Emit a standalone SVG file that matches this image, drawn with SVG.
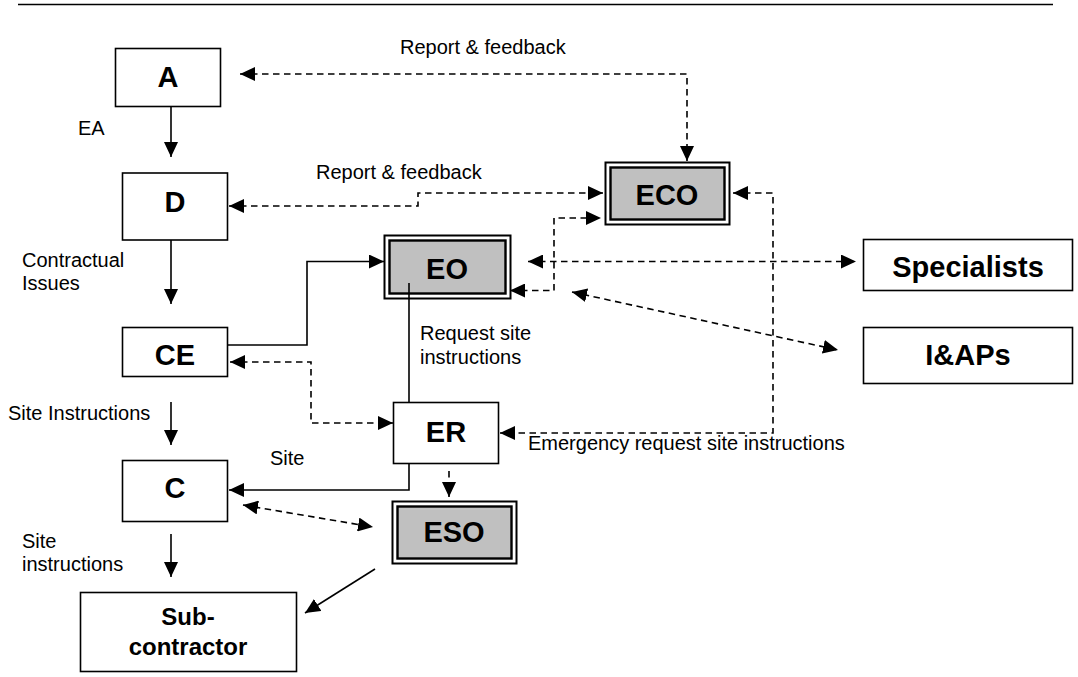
<svg xmlns="http://www.w3.org/2000/svg" width="1078" height="677" viewBox="0 0 1078 677">
  <style>
    .box { fill: #ffffff; stroke: #000000; stroke-width: 1.6; }
    .outer { fill: #ffffff; stroke: #000000; stroke-width: 2; }
    .inner { fill: #c0c0c0; stroke: #000000; stroke-width: 2.4; }
    .lbl { font-family: "Liberation Sans", Arial, sans-serif; font-weight: bold; font-size: 29px; fill: #000000; text-anchor: middle; }
    .sub { font-size: 24px; }
    .note { font-family: "Liberation Sans", Arial, sans-serif; font-size: 20px; fill: #000000; }
    .solid { fill: none; stroke: #000000; stroke-width: 1.6; }
    .dash { fill: none; stroke: #000000; stroke-width: 1.6; stroke-dasharray: 6.5 4.5; }
    .arr { marker-end: url(#head); }
    .both { marker-start: url(#tail); marker-end: url(#head); }
  </style>
  <defs>
    <marker id="head" markerUnits="userSpaceOnUse" markerWidth="15" markerHeight="14" refX="15" refY="7" orient="auto">
      <path d="M0,0 L15,7 L0,14 z" fill="#000000"/>
    </marker>
    <marker id="tail" markerUnits="userSpaceOnUse" markerWidth="15" markerHeight="14" refX="0" refY="7" orient="auto">
      <path d="M15,0 L0,7 L15,14 z" fill="#000000"/>
    </marker>
  </defs>

  <!-- page header rule -->
  <line x1="18" y1="4.5" x2="1053" y2="4.5" stroke="#000000" stroke-width="1.6"/>

  <!-- nodes -->
  <g id="node-a">
    <rect class="box" x="115.5" y="48.5" width="105" height="58"/>
    <text class="lbl" x="168" y="87">A</text>
  </g>
  <g id="node-d">
    <rect class="box" x="122.5" y="173" width="105" height="67"/>
    <text class="lbl" x="175" y="212">D</text>
  </g>
  <g id="node-ce">
    <rect class="box" x="122.5" y="327.5" width="105" height="49"/>
    <text class="lbl" x="175" y="365">CE</text>
  </g>
  <g id="node-c">
    <rect class="box" x="122.5" y="460.5" width="105" height="61"/>
    <text class="lbl" x="175" y="498">C</text>
  </g>
  <g id="node-subcontractor">
    <rect class="box" x="80.5" y="592.5" width="216" height="79"/>
    <text class="lbl sub" x="188" y="625">Sub-</text>
    <text class="lbl sub" x="188" y="655">contractor</text>
  </g>
  <g id="node-eco">
    <rect class="outer" x="605.5" y="162.5" width="124" height="62"/>
    <rect class="inner" x="610.5" y="167.5" width="114" height="52"/>
    <text class="lbl" x="667" y="205">ECO</text>
  </g>
  <g id="node-eo">
    <rect class="outer" x="384.5" y="235.5" width="126" height="63"/>
    <rect class="inner" x="389.5" y="240.5" width="116" height="53"/>
    <text class="lbl" x="447" y="279">EO</text>
  </g>
  <g id="node-er">
    <rect class="box" x="393.5" y="402.5" width="105" height="61"/>
    <text class="lbl" x="446" y="442">ER</text>
  </g>
  <g id="node-eso">
    <rect class="outer" x="392.5" y="501.5" width="124" height="62"/>
    <rect class="inner" x="397.5" y="506.5" width="114" height="52"/>
    <text class="lbl" x="454" y="542">ESO</text>
  </g>
  <g id="node-specialists">
    <rect class="box" x="863.5" y="239.5" width="209" height="51"/>
    <text class="lbl" x="968" y="277">Specialists</text>
  </g>
  <g id="node-iaps">
    <rect class="box" x="863.5" y="327.5" width="209" height="56"/>
    <text class="lbl" x="968" y="365">I&amp;APs</text>
  </g>

  <!-- connectors -->
  <g id="connectors">
    <!-- main chain -->
    <path class="solid arr" d="M171,107 L171,157"/>
    <path class="solid arr" d="M171,240 L171,304"/>
    <path class="solid arr" d="M171,402 L171,445"/>
    <path class="solid arr" d="M171,534 L171,577"/>
    <!-- CE to EO -->
    <path class="solid arr" d="M228,345 L307,345 L307,261.5 L384,261.5"/>
    <!-- EO to ER -->
    <path class="solid" d="M409,283 L409,402"/>
    <!-- ER to C -->
    <path class="solid arr" d="M409,464 L409,490 L229,490"/>
    <!-- ESO to sub-contractor -->
    <path class="solid arr" d="M375,569 L305,613"/>

    <!-- report and feedback loops -->
    <path class="dash both" d="M240,74 L687,74 L687,161"/>
    <path class="dash both" d="M229,206 L418,206 L418,193 L603,193"/>
    <path class="dash both" d="M510,290.5 L554,290.5 L554,218 L601,218"/>
    <path class="dash both" d="M733,193 L773,193 L773,433 L500,433"/>
    <path class="dash both" d="M528,261.5 L856,261.5"/>
    <path class="dash both" d="M572,292 L838,350"/>
    <path class="dash both" d="M230,362 L311,362 L311,423 L393,423"/>
    <path class="dash both" d="M243,505 L373,527"/>
    <path class="dash arr" d="M449,471 L449,497"/>
  </g>

  <!-- connector notes -->
  <g id="notes">
    <text class="note" x="400" y="54">Report &amp; feedback</text>
    <text class="note" x="78" y="135">EA</text>
    <text class="note" x="316" y="179">Report &amp; feedback</text>
    <text class="note" x="22" y="267">Contractual</text>
    <text class="note" x="22" y="290">Issues</text>
    <text class="note" x="420" y="340">Request site</text>
    <text class="note" x="420" y="364">instructions</text>
    <text class="note" x="8" y="420">Site Instructions</text>
    <text class="note" x="270" y="465">Site</text>
    <text class="note" x="528" y="450">Emergency request site instructions</text>
    <text class="note" x="22" y="548">Site</text>
    <text class="note" x="22" y="571">instructions</text>
  </g>
</svg>
